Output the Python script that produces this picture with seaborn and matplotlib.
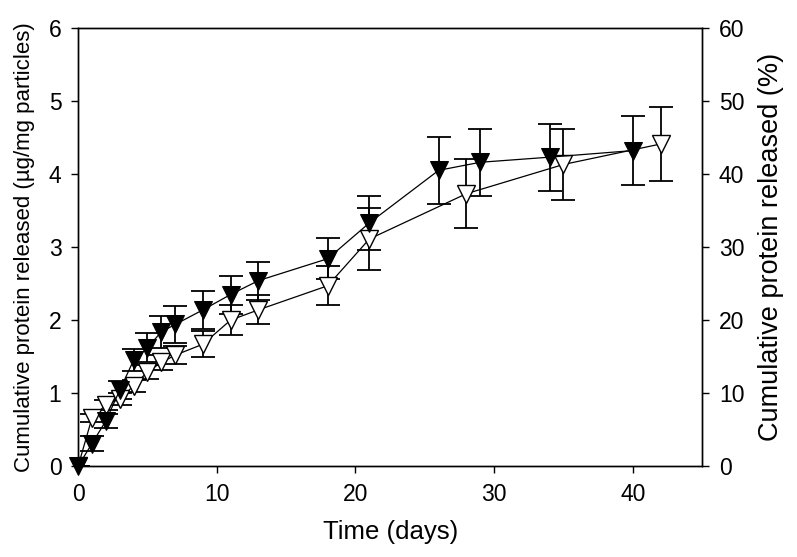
import numpy as np
import pandas as pd
import seaborn as sns
import matplotlib
matplotlib.use("Agg")
import matplotlib.pyplot as plt

# valeurs
jours_plein = [0, 1, 2, 3, 4, 5, 6, 7, 9, 11, 13, 18, 21, 26, 29, 34, 40]
proteine_plein = [0.0, 0.31, 0.62, 1.04, 1.45, 1.62, 1.84, 1.94, 2.14, 2.35, 2.54, 2.84, 3.33, 4.05, 4.16, 4.23, 4.32]
erreur_plein = [0.0, 0.10, 0.10, 0.12, 0.15, 0.20, 0.22, 0.25, 0.26, 0.26, 0.26, 0.28, 0.37, 0.46, 0.46, 0.46, 0.47]

jours_vide = [0, 1, 2, 3, 4, 5, 6, 7, 9, 11, 13, 18, 21, 28, 35, 42]
proteine_vide = [0.0, 0.66, 0.84, 0.92, 1.10, 1.29, 1.42, 1.52, 1.67, 2.00, 2.14, 2.47, 3.11, 3.73, 4.13, 4.41]
erreur_vide = [0.0, 0.06, 0.07, 0.08, 0.08, 0.09, 0.10, 0.12, 0.18, 0.20, 0.20, 0.27, 0.42, 0.47, 0.48, 0.51]

sns.set_style("ticks")
plt.rcParams['font.family'] = ['Liberation Sans', 'DejaVu Sans']
plt.rcParams['text.color'] = 'black'
plt.rcParams['axes.labelcolor'] = 'black'
plt.rcParams['xtick.color'] = 'black'
plt.rcParams['ytick.color'] = 'black'

fig = plt.figure(figsize=(7.97, 5.57), dpi=100)
ax = fig.add_axes([0.098, 0.163, 0.783, 0.787])

df_plein = pd.DataFrame({'jour': jours_plein, 'val': proteine_plein})
df_vide = pd.DataFrame({'jour': jours_vide, 'val': proteine_vide})

# barres d'erreur
ax.errorbar(jours_plein, proteine_plein, yerr=erreur_plein, fmt='none',
            ecolor='black', elinewidth=1.3, capsize=8.5, capthick=1.3, zorder=2)
ax.errorbar(jours_vide, proteine_vide, yerr=erreur_vide, fmt='none',
            ecolor='black', elinewidth=1.3, capsize=8.5, capthick=1.3, zorder=2)

sns.lineplot(data=df_vide, x='jour', y='val', ax=ax, color='black', lw=0.9,
             marker='v', markersize=12.5, markerfacecolor='white',
             markeredgecolor='black', markeredgewidth=1.0, zorder=3)
sns.lineplot(data=df_plein, x='jour', y='val', ax=ax, color='black', lw=0.9,
             marker='v', markersize=12.5, markerfacecolor='black',
             markeredgecolor='black', zorder=4, clip_on=False)

ax.set_xlim(0, 45)
ax.set_ylim(0, 6)
ax.set_xticks([0, 10, 20, 30, 40])
ax.set_yticks(range(0, 7))
ax.set_xlabel('Time (days)', fontsize=18.5, labelpad=10)
ax.set_ylabel('Cumulative protein released (\u00b5g/mg particles)', fontsize=16, labelpad=10)
ax.tick_params(axis='both', labelsize=16.5, direction='out', length=5, width=1, pad=7)
for s in ax.spines.values():
    s.set_linewidth(1.0)
    s.set_color('black')
    s.set_visible(True)

ax2 = ax.twinx()
ax2.set_ylim(0, 60)
ax2.set_yticks(range(0, 70, 10))
ax2.set_ylabel('Cumulative protein released (%)', fontsize=19.5, labelpad=10)
ax2.tick_params(axis='y', labelsize=16.5, direction='out', length=5, width=1, pad=7)
for s in ax2.spines.values():
    s.set_linewidth(1.0)
    s.set_color('black')

fig.savefig('out.png', dpi=100)
